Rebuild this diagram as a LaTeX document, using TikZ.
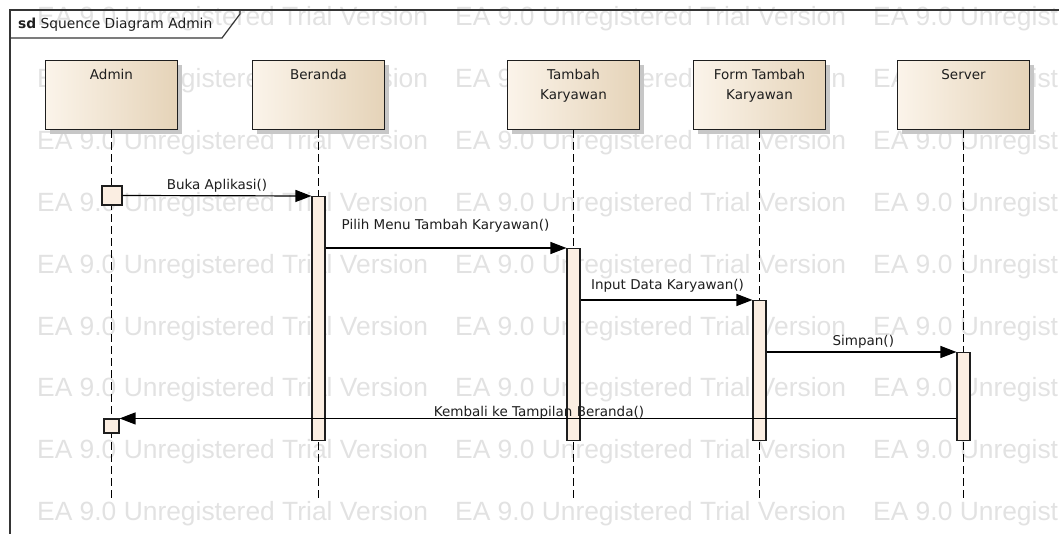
\documentclass[tikz,border=0pt]{standalone}
\usepackage{fontspec}
\setmainfont{DejaVu Sans}
\newfontfamily\wmfont{Liberation Sans}
\usetikzlibrary{arrows.meta,shadows}

\definecolor{hdL}{RGB}{251,244,234}
\definecolor{hdR}{RGB}{229,211,184}
\definecolor{actfill}{RGB}{251,238,226}
\definecolor{wmgray}{RGB}{226,226,226}
\definecolor{ink}{RGB}{30,30,30}

\tikzset{
  wm/.style={anchor=base west, inner sep=0pt, text=wmgray,
    font=\wmfont\fontsize{26.4}{30}\selectfont},
  head/.style={draw=ink, line width=1.1pt, anchor=north, inner sep=0pt,
    minimum width=132pt, minimum height=69pt,
    left color=hdL, right color=hdR,
    drop shadow={shadow xshift=4pt, shadow yshift=-4pt, fill=black!22, opacity=1}},
  htext/.style={anchor=north, inner sep=0pt, align=center, text=ink,
    font=\fontsize{13.5}{20}\selectfont},
  life/.style={draw=black, line width=1.3pt, dash pattern=on 8pt off 4pt},
  actbox/.style={draw=ink, line width=1.1pt, fill=actfill, inner sep=0pt,
    minimum width=13pt, anchor=north},
  admbox/.style={draw=ink, line width=1.1pt, fill=actfill, inner sep=0pt},
  msg/.style={draw=black, line width=1.2pt, -{Triangle[length=16pt,width=12pt]}},
  mlabel/.style={anchor=base, inner sep=0pt, text=ink,
    font=\fontsize{13.5}{16}\selectfont},
  frameline/.style={draw=ink!90, line width=1.2pt},
}

\begin{document}
\begin{tikzpicture}[x=1pt, y=-1pt]
  \useasboundingbox (0,0) rectangle (1059,534);

  % background watermark rows
  \begin{scope}
    \clip (0,0) rectangle (1059,534);
    \foreach \r in {0,...,8} {
      \foreach \c in {0,1,2} {
        \node[wm] (wm-\r-\c) at (37+418*\c, 26+61.8*\r) {EA 9.0 Unregistered Trial Version};
      }
    }
  \end{scope}

  % diagram frame and its name tab
  \draw[frameline] (10,534) -- (10,10) -- (1059,10);
  \draw[frameline] (10,38) -- (222,38) -- (240,14) -- (240,10);
  \node[anchor=base west, inner sep=0pt, text=ink, font=\fontsize{13.8}{16}\selectfont]
    (title) at (18,28.5) {\textbf{sd} Squence Diagram Admin};

  % lifeline heads
  \node[head] (hA) at (111.5,60) {};
  \node[head] (hB) at (318.5,60) {};
  \node[head] (hT) at (573.5,60) {};
  \node[head] (hF) at (759.5,60) {};
  \node[head] (hS) at (963.5,60) {};

  \node[htext] (tA) at ([yshift=-8.7pt]hA.north) {Admin};
  \node[htext] (tB) at ([yshift=-8.7pt]hB.north) {Beranda};
  \node[htext] (tT) at ([yshift=-8.7pt]hT.north) {Tambah\\Karyawan};
  \node[htext] (tF) at ([yshift=-8.7pt]hF.north) {Form Tambah\\Karyawan};
  \node[htext] (tS) at ([yshift=-9.1pt]hS.north) {Server};

  % lifelines
  \coordinate (bottom) at (0,501);
  \foreach \h in {hA,hB,hT,hF,hS} {
    \draw[life] (\h.south) -- (\h.south |- bottom);
  }

  % activations
  \node[actbox, minimum height=244pt] (aB) at (318.5,196) {};
  \node[actbox, minimum height=192pt] (aT) at (573.5,248) {};
  \node[actbox, minimum height=140pt] (aF) at (759.5,300) {};
  \node[actbox, minimum height=88pt]  (aS) at (963.5,352) {};
  \node[admbox, minimum width=20pt, minimum height=19pt] (adm1) at (112,195.5) {};
  \node[admbox, minimum width=15pt, minimum height=14pt] (adm2) at (111.5,426) {};

  % messages
  \draw[msg] (adm1.east) -- (aB.north west);
  \draw[msg] (aB.east |- aT.north) -- (aT.north west);
  \draw[msg] (aT.east |- aF.north) -- (aF.north west);
  \draw[msg] (aF.east |- aS.north) -- (aS.north west);
  \draw[msg] (aS.west |- adm2.north east) -- (adm2.north east);

  % message labels
  \node[mlabel] (l1) at (217,189.5) {Buka Aplikasi()};
  \node[mlabel] (l2) at (445.5,230) {Pilih Menu Tambah Karyawan()};
  \node[mlabel] (l3) at (667.5,289.5) {Input Data Karyawan()};
  \node[mlabel] (l4) at (863.3,345.5) {Simpan()};
  \node[mlabel] (l5) at (539,416) {Kembali ke Tampilan Beranda()};
\end{tikzpicture}
\end{document}
